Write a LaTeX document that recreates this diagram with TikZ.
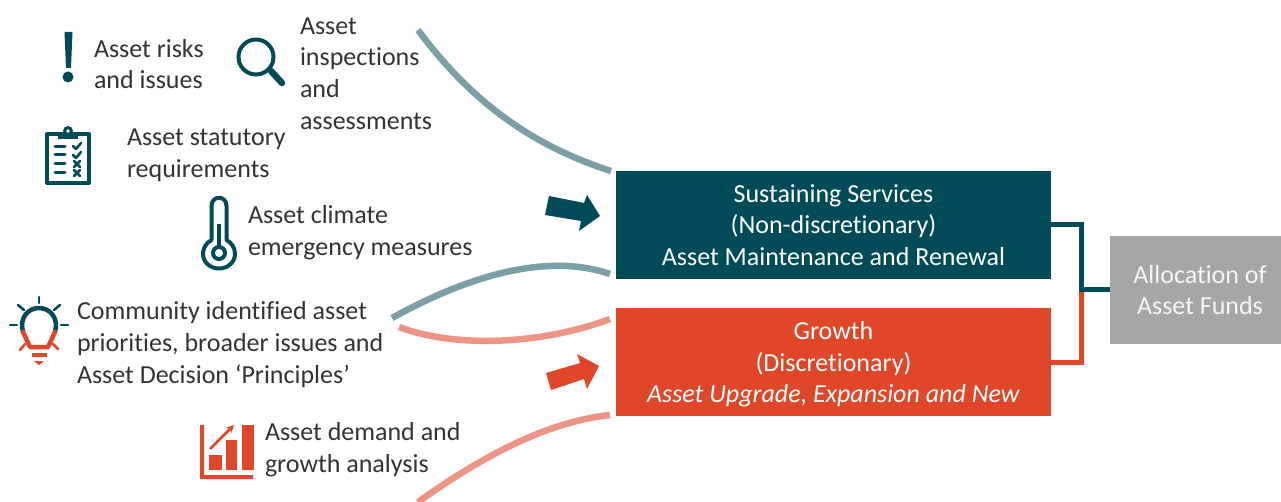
\documentclass[tikz,border=0pt]{standalone}
\usepackage{fontspec}
\setmainfont{Carlito}[Ligatures=NoCommon]
\usetikzlibrary{positioning, arrows}
\definecolor{tealdark}{HTML}{004B57}
\definecolor{teallight}{HTML}{7A9FA7}
\definecolor{redstrong}{HTML}{E04628}
\definecolor{redlight}{HTML}{EE9484}
\definecolor{greybox}{HTML}{A6A6A6}
\definecolor{labeltext}{HTML}{333333}
\tikzset{
    x=1pt, y=-1pt, % Work in pixels of the picture, y going down
    every node/.style={
        font=\fontsize{26}{31.6}\selectfont,
        align=center,
        inner sep=0pt,
        outer sep=0pt
    },
    source/.style={ % Text beside each icon
        anchor=west,
        align=left,
        text=labeltext
    },
    fundbox/.style={
        minimum width=435pt,
        minimum height=108pt,
        text depth=0pt,
        text=white,
        fill=#1
    },
    elbow/.style={
        draw=#1,
        line width=5pt
    },
    sweep/.style={ % Curved brackets round the sources
        draw=#1,
        line width=6.5pt
    },
    iconline/.style={
        draw=#1,
        line width=4pt,
        line cap=round,
        line join=round
    }
}
\begin{document}
\begin{tikzpicture}
    \useasboundingbox (0,0) rectangle (1281,502);

    % Boxes
    \node[fundbox=tealdark] (sustain) at (833.5,225) {Sustaining Services\\(Non-discretionary)\\Asset Maintenance and Renewal};
    \node[fundbox=redstrong, below=29pt of sustain] (growth) {Growth\\(Discretionary)\\\textit{Asset Upgrade, Expansion and New}};
    \node[fill=greybox, text=white!90!greybox, minimum width=171pt, minimum height=108pt] (alloc) at (1195.5,290) {\hspace*{9pt}Allocation of\\\hspace*{9pt}Asset Funds};

    % Elbows into the allocation box
    \coordinate (join) at (1081,290);
    \draw[elbow=redstrong] (growth.east |- 0,362) -| (join);
    \draw[elbow=tealdark] (sustain.east) -| (join) -- (alloc.west);

    % Source labels
    \node[source] (risks) at (94,64) {Asset risks\\and issues};
    \node[source] (inspect) at (300,73.5) {Asset\\inspections\\and\\assessments};
    \node[source] (statutory) at (127,155) {Asset statutory\\requirements};
    \node[source] (climate) at (248,232.5) {Asset climate\\emergency measures};
    \node[source] (community) at (77,344.5) {Community identified asset\\priorities, broader issues and\\Asset Decision ‘Principles’};
    \node[source] (demand) at (265,450) {Asset demand and\\growth analysis};

    % Curved brackets
    \coordinate (tealtop) at (418,30);
    \coordinate (tealtopend) at (611,171);
    \coordinate (tealmid) at (392,318);
    \coordinate (tealmidend) at (610,274);
    \coordinate (redmid) at (399,327);
    \coordinate (redmidend) at (610,319);
    \coordinate (redlow) at (418,502);
    \coordinate (redlowend) at (610,415);
    \draw[sweep=teallight] (tealtop) .. controls (470,100) and (530,145) .. (tealtopend);
    \draw[sweep=teallight] (tealmid) .. controls (455,283) and (540,250) .. (tealmidend);
    \draw[sweep=redlight] (redmid) .. controls (455,348) and (540,345) .. (redmidend);
    \draw[sweep=redlight] (redlow) .. controls (480,458) and (545,422) .. (redlowend);

    % Block arrows
    \fill[tealdark] (549,196) -- (584,203) -- (587,195) -- (600,216) -- (579,231) -- (581,221) -- (545,215) -- cycle;
    \fill[redstrong] (546,373) -- (580,363) -- (577,354) -- (599,366) -- (587,389) -- (584,379) -- (551,390) -- cycle;

    % Exclamation mark
    \fill[tealdark] (64.5,32) -- (72.5,32) -- (71,68) -- (66,68) -- cycle;
    \fill[tealdark] (68,77) circle (5.5);

    % Magnifier
    \draw[iconline=tealdark] (256,57) circle (17.5);
    \draw[iconline=tealdark, line width=6.5pt] (271,71) -- (282,83);

    % Clipboard
    \draw[iconline=tealdark] (47,134) rectangle (89,183);
    \fill[tealdark] (58,132) rectangle (78,139);
    \fill[tealdark] (68,131) circle (5);
    \fill[white] (68,131) circle (1.8);
    \foreach \rowy in {147,155,164,173}
        \draw[iconline=tealdark, line width=3pt] (55,\rowy) -- (65,\rowy);
    \foreach \rowy in {146,155}
        \draw[iconline=tealdark, line width=2.5pt] (73,\rowy) -- (76,\rowy+3) -- (81,\rowy-3);
    \foreach \rowy in {164,173}
        \draw[iconline=tealdark, line width=2.5pt] (74,\rowy-3) -- (80,\rowy+3) (80,\rowy-3) -- (74,\rowy+3);

    % Thermometer
    \draw[iconline=tealdark] (211.5,240) -- (211.5,206) .. controls (211.5,195) and (226.5,195) .. (226.5,206) -- (226.5,240)
        .. controls (232,243) and (235,248) .. (235,254) .. controls (235,262) and (228,268.5) .. (219,268.5)
        .. controls (210,268.5) and (203,262) .. (203,254) .. controls (203,248) and (206,243) .. (211.5,240) -- cycle;
    \draw[iconline=tealdark] (219,253) circle (6);
    \draw[tealdark, line width=4pt] (219,224) -- (219,248);

    % Light bulb
    \draw[iconline=tealdark, line width=4.5pt] (23,332) .. controls (19,318) and (28,308) .. (39,308) .. controls (50,308) and (59,318) .. (55,332);
    \draw[iconline=redstrong, line width=4.5pt] (23,332) -- (30,347) -- (48,347) -- (55,332);
    \foreach \rayax/\rayay/\raybx/\rayby in {39/297/39/303, 18/305/24/310, 60/305/54/310, 10/325/17/325, 61/325/68/325}
        \draw[iconline=tealdark, line width=2.5pt] (\rayax,\rayay) -- (\raybx,\rayby);
    \foreach \rayax/\rayay/\raybx/\rayby in {20/350/25/344, 58/349/53/344}
        \draw[iconline=redstrong, line width=2.5pt] (\rayax,\rayay) -- (\raybx,\rayby);
    \fill[redstrong] (32,353) rectangle (47,357);
    \fill[redstrong] (34,361) -- (44,361) -- (39,365) -- cycle;

    % Growth chart
    \fill[redstrong] (200,425) -- (204,425) -- (204,475) -- (253,475) -- (253,479) -- (200,479) -- cycle;
    \fill[redstrong] (209,455) rectangle (222,470);
    \fill[redstrong] (226,440) rectangle (237,470);
    \fill[redstrong] (242,425) rectangle (254,470);
    \draw[redstrong, line width=2.5pt, ->, >=stealth] (210,449) -- (234,425);
\end{tikzpicture}
\end{document}
